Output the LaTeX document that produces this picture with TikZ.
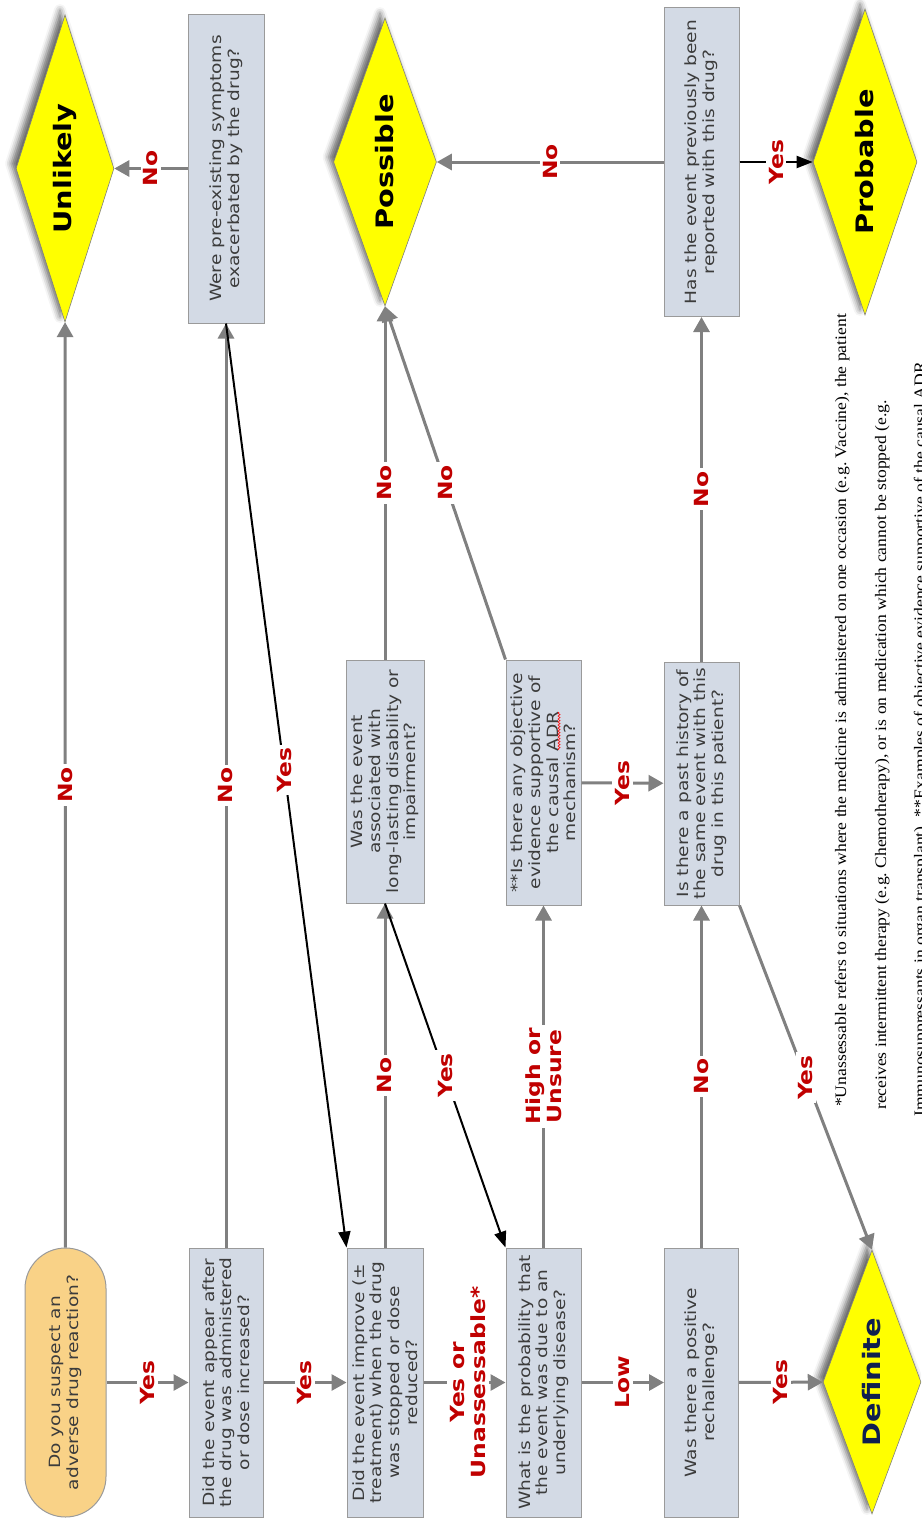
\documentclass[tikz,border=0pt]{standalone}
\usepackage{fontspec}
\usetikzlibrary{shapes.geometric,shapes.misc,arrows.meta,shadows.blur,decorations.pathmorphing}
\newfontfamily\boxfont{DejaVu Sans}[FakeStretch=1.2]
\newfontfamily\notefont{Liberation Serif}[FakeStretch=1.1]
\definecolor{boxfill}{HTML}{D3DAE5}
\definecolor{boxline}{HTML}{9A9A9A}
\definecolor{txtgray}{HTML}{3C3C3C}
\definecolor{lblred}{HTML}{C00000}
\definecolor{conngray}{HTML}{808080}
\definecolor{startfill}{HTML}{F9D287}
\definecolor{defblue}{HTML}{0F1F4F}
\definecolor{dyellow}{HTML}{FFFF00}
\tikzset{
  qbox/.style={rectangle, draw=boxline, line width=1pt, fill=boxfill, rotate=90,
    align=center, inner sep=0pt, text=txtgray,
    font=\boxfont\fontsize{15.5}{17.7}\selectfont},
  startbox/.style={qbox, rounded rectangle, fill=startfill},
  diam/.style={diamond, shape aspect=3, draw=conngray, line width=0.6pt, fill=dyellow,
    rotate=90, inner sep=0pt, text=black,
    blur shadow={shadow xshift=-5pt, shadow yshift=5pt, shadow blur radius=6pt, shadow opacity=60},
    font=\boxfont\bfseries\fontsize{24}{26}\selectfont},
  lbl/.style={fill=white, text=lblred, rotate=90, inner sep=3pt, align=center,
    font=\boxfont\bfseries\fontsize{19.5}{21}\selectfont},
  conn/.style={draw=conngray, line width=3pt, -{Triangle[length=15pt,width=16pt]}},
  bconn/.style={draw=black, line width=2pt, -{Triangle[length=16pt,width=12pt]}},
  note/.style={rotate=90, inner sep=0pt, text=black, font=\notefont\fontsize{16}{19}\selectfont},
  squiggle/.style={draw=red, line width=0.6pt, decorate, decoration={snake, amplitude=1pt, segment length=3pt}},
}
\begin{document}
\begin{tikzpicture}[x=1pt,y=-1pt]
\useasboundingbox (0,0) rectangle (921,1518);
\clip (0,0) rectangle (921,1518);

% bottom row
\node[startbox, minimum width=269pt, minimum height=81pt] (start) at (65.5,1382.5) {Do you suspect an\\adverse drug reaction?};
\node[qbox, minimum width=269pt, minimum height=74pt] (b1) at (226,1382.5) {Did the event appear after\\the drug was administered\\or dose increased?};
\node[qbox, minimum width=269pt, minimum height=76pt] (b2) at (385,1382.5) {Did the event improve (±\\treatment) when the drug\\was stopped or dose\\reduced?};
\node[qbox, minimum width=269pt, minimum height=75pt] (b3) at (543.5,1382.5) {What is the probability that\\the event was due to an\\underlying disease?};
\node[qbox, minimum width=269pt, minimum height=74pt] (b4) at (701.5,1382.5) {Was there a positive\\rechallenge?};
\node[diam, text=defblue, minimum width=264pt, minimum height=98pt] (definite) at (872,1382) {Definite};

% middle row
\node[qbox, minimum width=243pt, minimum height=78pt] (b5) at (385,781.5) {Was the event\\associated with\\long-lasting disability or\\impairment?};
\node[qbox, minimum width=245pt, minimum height=75pt] (b6) at (543.5,782.5) {**Is there any objective\\evidence supportive of\\the causal ADR\\mechanism?};
\node[qbox, minimum width=243pt, minimum height=75pt] (b7) at (701.5,783.5) {Is there a past history of\\the same event with this\\drug in this patient?};
\path[squiggle] (559,750) -- (559,712);

% top row
\node[diam, minimum width=307pt, minimum height=98pt] (unlikely) at (65,168.5) {Unlikely};
\node[qbox, minimum width=309pt, minimum height=76pt] (b8) at (226,168.5) {Were pre-existing symptoms\\exacerbated by the drug?};
\node[diam, minimum width=288pt, minimum height=103pt] (possible) at (385,162) {Possible};
\node[qbox, minimum width=309pt, minimum height=75pt] (b9) at (701.5,162) {Has the event previously been\\reported with this drug?};
\node[diam, minimum width=306pt, minimum height=104pt] (probable) at (865,162) {Probable};

% connectors
\draw[conn] (start) -- node[lbl]{Yes} (b1);
\draw[conn] (b1) -- node[lbl]{Yes} (b2);
\draw[conn] (b2) -- node[lbl,pos=0.54]{Yes or\\Unassessable*} (b3);
\draw[conn] (b3) -- node[lbl]{Low} (b4);
\draw[conn] (b4) -- node[lbl]{Yes} (definite);
\draw[conn] (start) -- node[lbl]{No} (unlikely);
\draw[conn] (b1) -- node[lbl]{No} (b8);
\draw[conn] (b8) -- node[lbl]{No} (unlikely);
\draw[bconn] (b8.west) -- node[lbl,pos=0.483]{Yes} (b2.north east);
\draw[conn] (b2) -- node[lbl]{No} (b5);
\draw[conn] (b5) -- node[lbl]{No} (possible);
\draw[bconn] (b5.west) -- node[lbl]{Yes} (b3.north east);
\draw[conn] (b3) -- node[lbl]{High or\\Unsure} (b6);
\draw[conn] (b6.north east) -- node[lbl]{No} (possible.west);
\draw[conn] (b6) -- node[lbl]{Yes} (b7);
\draw[conn] (b4) -- node[lbl]{No} (b7);
\draw[conn] (b7) -- node[lbl]{No} (b9);
\draw[conn] (b7.south west) -- node[lbl]{Yes} (definite.east);
\draw[conn] (b9) -- node[lbl]{No} (possible);
\draw[bconn] (b9) -- node[lbl]{Yes} (probable);

% footnote
\node[note, anchor=base west] (fn1) at (846,1107) {*Unassessable refers to situations where the medicine is administered on one occasion (e.g.\ Vaccine), the patient};
\node[note, anchor=base west] (fn2) at (886,1110) {receives intermittent therapy (e.g.\ Chemotherapy), or is on medication which cannot be stopped (e.g.};
\node[note, anchor=base west] (fn3) at (925,1117) {Immunosuppressants in organ transplant), **Examples of objective evidence supportive of the causal ADR};
\end{tikzpicture}
\end{document}
